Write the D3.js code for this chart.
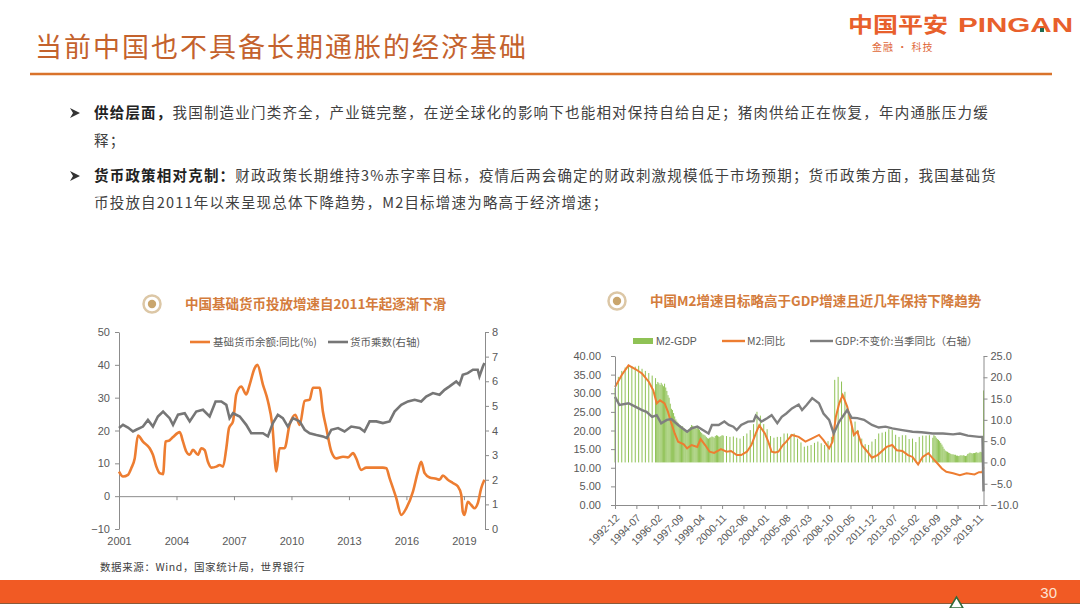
<!DOCTYPE html>
<html>
<head>
<meta charset="utf-8">
<script src="https://cdn.jsdelivr.net/npm/d3@7"></script>
<style>
  body { margin: 0; background: #fff; }
  svg { display: block; font-family: "Noto Sans CJK SC", "Liberation Sans", sans-serif; }
</style>
</head>
<body>
<svg id="slide" width="1080" height="608"></svg>
<script>
// ---------- data: left chart (base money growth & money multiplier)
var baseYears = [2001.00,2001.21,2001.47,2001.64,2001.82,2001.99,2002.25,2002.60,2002.77,2002.95,
  2003.12,2003.30,2003.43,2003.64,2003.82,2004.17,2004.34,2004.51,2004.69,2004.86,
  2005.12,2005.30,2005.47,2005.64,2005.82,2006.08,2006.25,2006.43,2006.60,2006.74,
  2006.95,2007.12,2007.38,2007.64,2007.82,2008.08,2008.22,2008.51,2008.77,2009.00,
  2009.21,2009.38,2009.64,2009.90,2010.20,2010.43,2010.69,2010.95,2011.12,2011.47,
  2011.64,2011.82,2012.08,2012.34,2012.69,2012.95,2013.21,2013.38,2013.64,2013.90,
  2014.43,2014.77,2014.95,2015.12,2015.47,2015.73,2015.99,2016.34,2016.60,2016.77,
  2016.95,2017.21,2017.56,2017.73,2017.90,2018.16,2018.42,2018.68,2018.86,2018.94,
  2019.03,2019.20,2019.38,2019.55,2019.72,2019.90,2020.07];
var baseGrowth = [7.5,6.0,6.5,8.5,11.5,18.5,16.6,14.6,12.6,9.0,
  7.0,6.7,16.6,17.0,18.0,19.5,16.6,13.6,12.6,14.1,
  12.6,14.6,14.0,10.5,8.7,9.0,9.5,9.0,14.6,20.7,
  22.8,31.0,33.4,31.0,34.0,39.0,40.0,34.0,29.0,21.7,
  7.5,14.6,14.6,21.7,24.8,21.7,29.0,29.4,33.0,33.0,
  25.8,20.7,13.6,11.5,12.0,11.8,13.1,11.5,8.0,8.7,
  8.7,8.7,8.5,5.5,-0.6,-5.7,-3.7,1.4,7.5,10.5,
  7.0,5.7,5.3,5.0,6.3,5.0,4.0,3.0,0.4,-4.7,
  -5.7,-1.7,-2.7,-3.7,-2.2,2.4,5.0];
var multYears = [2001.00,2001.21,2001.47,2001.73,2001.90,2002.25,2002.51,2002.77,2003.03,2003.30,
  2003.64,2003.82,2004.08,2004.43,2004.69,2005.03,2005.38,2005.73,2006.04,2006.34,
  2006.60,2006.77,2006.95,2007.30,2007.64,2007.90,2008.16,2008.51,2008.77,2009.03,
  2009.29,2009.55,2009.81,2010.08,2010.43,2010.69,2010.95,2011.30,2011.64,2011.85,
  2012.08,2012.43,2012.77,2013.12,2013.56,2013.81,2014.08,2014.43,2014.77,2015.12,
  2015.38,2015.73,2016.08,2016.43,2016.77,2017.03,2017.38,2017.73,2017.99,2018.25,
  2018.60,2018.77,2018.94,2019.20,2019.47,2019.72,2019.81,2019.99,2020.07];
var multValues = [4.10,4.23,4.12,3.96,4.03,4.16,4.43,4.16,4.57,4.77,
  4.50,4.23,4.64,4.70,4.37,4.77,4.84,4.57,5.18,5.18,
  5.04,4.50,4.70,4.57,4.23,3.89,3.89,3.89,3.76,4.30,
  4.64,4.50,4.16,4.50,4.37,4.03,3.89,3.82,3.76,3.69,
  4.03,4.10,3.96,4.16,4.10,3.96,4.37,4.37,4.30,4.37,
  4.77,5.04,5.18,5.25,5.18,5.38,5.52,5.45,5.65,5.79,
  5.99,5.86,6.26,6.33,6.47,6.47,6.20,6.60,6.74];
var leftYearTicks = [2001, 2004, 2007, 2010, 2013, 2016, 2019];
var leftTicks = [-10, 0, 10, 20, 30, 40, 50];
var leftTicks2 = [0, 1, 2, 3, 4, 5, 6, 7, 8];

// ---------- data: right chart (M2, GDP, M2-GDP)
var m2Months = ["1992-12","1993-06","1993-12","1994-06","1994-12","1995-06","1995-10","1996-01","1996-04","1996-08",
  "1996-11","1997-02","1997-05","1997-08","1998-01","1998-04","1998-08","1999-01","1999-04","1999-08",
  "1999-12","2000-04","2000-10","2001-03","2001-07","2001-12","2002-04","2002-09","2003-01","2003-05",
  "2003-08","2004-01","2004-04","2004-07","2004-10","2005-01","2005-05","2005-08","2006-01","2006-07",
  "2007-01","2007-07","2008-01","2008-05","2008-10","2009-01","2009-04","2009-07","2009-10","2010-02",
  "2010-05","2010-08","2010-11","2011-03","2011-08","2011-12","2012-05","2012-09","2013-01","2013-06",
  "2013-10","2014-03","2014-08","2014-12","2015-05","2015-09","2016-02","2016-06","2016-10","2017-02",
  "2017-06","2017-12","2018-06","2018-12","2019-07","2019-11","2020-02","2020-03"];
var m2Values = [31.7,34.9,37.5,36.5,35.3,33.1,30.8,27.3,28.1,27.3,
  25.0,21.9,19.2,17.0,16.3,15.2,16.1,15.6,17.7,16.1,
  14.3,14.0,15.0,14.3,14.5,13.4,13.4,14.3,16.1,19.2,
  21.4,19.2,17.0,14.3,14.1,14.3,16.1,17.0,18.8,18.3,
  17.0,17.9,18.8,17.4,15.2,17.0,23.7,27.3,29.5,26.4,
  22.8,18.8,19.7,16.1,14.3,12.7,13.4,14.5,15.6,16.1,
  14.7,14.5,13.4,12.9,10.9,12.9,13.9,12.5,11.2,9.8,
  8.9,8.5,8.0,8.5,8.2,8.8,8.8,10.1];
var gdpMonths = ["1992-12","1993-04","1993-12","1994-06","1994-12","1995-04","1995-09","1996-01","1996-05","1996-10",
  "1997-02","1997-08","1998-04","1998-08","1999-01","1999-06","1999-11","2000-02","2000-08","2001-01",
  "2001-05","2001-09","2001-12","2002-04","2002-10","2003-03","2003-05","2003-10","2004-03","2004-07",
  "2004-12","2005-04","2005-08","2006-01","2006-07","2006-10","2007-02","2007-07","2008-01","2008-05",
  "2008-10","2009-02","2009-07","2010-02","2010-06","2010-11","2011-05","2011-12","2012-06","2012-12",
  "2013-06","2014-03","2014-12","2015-08","2016-06","2017-03","2017-12","2018-06","2019-01","2019-11",
  "2020-02","2020-03"];
var gdpValues = [15.4,13.5,13.9,13.1,12.3,11.9,10.7,11.1,9.2,10.0,
  10.2,8.8,7.2,8.0,8.4,7.6,6.8,8.8,8.8,9.6,
  8.8,8.4,7.6,8.8,9.6,9.7,11.0,9.6,10.4,11.1,
  9.2,10.7,11.5,12.7,13.6,12.3,13.5,15.1,13.9,11.5,
  10.0,6.8,9.6,12.3,10.5,10.4,10.0,8.8,8.2,8.4,
  8.0,7.6,7.2,7.1,6.8,6.8,6.6,6.8,6.3,6.0,
  6.0,-6.8];
// M2-GDP bars: quarterly stretches and monthly stretches
var gapQuarterly1 = [17.5,20.1,21.5,22.3,22.9,22.6,22.5,22.7,22.0,21.5,21.0,20.4,19.8];   // from 1992-12
var gapMonthly1 = [18.4,18.9,18.6,18.2,18.7,18.3,17.9,18.5,17.6,16.8,15.8,15.2,
  13.8,12.6,12.3,11.6,10.8,10.1,9.6,9.3,8.9,8.7,8.4,8.5,
  8.1,7.8,7.6,7.4,7.5,7.9,8.3,8.8,8.6,8.4,8.1,8.0,
  8.3,7.9,7.6,7.2,6.9,6.6,6.5,6.3,6.0,5.7,5.6,5.8,
  5.9,6.1,6.0,5.8,6.2,6.4,6.3,6.1,6.0,6.2,6.4,6.3];                                  // from 1996-01
var gapQuarterly2 = [6.2,6.0,6.1,5.8,5.6,6.2,6.8,7.6,9.0,11.9,11.0,9.0,7.8,6.2,5.8,6.0,
  6.0,6.8,6.8,6.6,6.8,5.6,4.7,3.7,3.9,4.1,4.6,4.9,4.5,4.1,5.0,6.0,
  19.4,20.1,19.0,16.6,12.3,9.6,9.6,7.5,5.6,4.3,4.1,4.9,5.5,6.8,7.0,7.2,
  7.8,7.6,6.5,6.0,6.4,6.4,5.5,5.6,4.8,6.0,6.3,6.3,6.4,5.8];                           // from 2001-03
var gapMonthly2 = [6.4,6.2,5.8,5.5,5.3,5.0,
  4.6,4.2,3.7,3.2,2.8,2.6,2.5,2.3,2.2,2.0,1.9,1.9,
  1.8,1.8,1.6,1.6,1.5,1.6,1.7,1.6,1.7,1.6,1.5,1.6,
  2.0,2.1,2.3,2.2,2.1,2.2,2.2,2.3,2.4,2.2,2.3,2.5,
  2.4,2.8,16.9];                                                                       // from 2016-07
var rightTickLabels = ["1992-12","1994-07","1996-02","1997-09","1999-04","2000-11","2002-06","2004-01","2005-08",
  "2007-03","2008-10","2010-05","2011-12","2013-07","2015-02","2016-09","2018-04","2019-11"];
var rightTicks = [0, 5, 10, 15, 20, 25, 30, 35, 40];
var rightTicks2 = [-10, -5, 0, 5, 10, 15, 20, 25];

var svg = d3.select('#slide');
var ORANGE = '#ed7d31', GRAY = '#767676', GREEN = '#8fc255';

// ---------- header
svg.append('text')
  .attr('x', 35).attr('y', 57)
  .attr('font-size', 27).attr('letter-spacing', 2)
  .attr('fill', '#c4622d')
  .text('当前中国也不具备长期通胀的经济基础');
svg.append('line')
  .attr('x1', 30).attr('x2', 1052).attr('y1', 74).attr('y2', 74)
  .attr('stroke', '#d9732b').attr('stroke-width', 2.5);

// logo
svg.append('text')
  .attr('x', 848).attr('y', 32).attr('font-size', 21).attr('font-weight', 'bold')
  .attr('fill', '#e8602c').attr('textLength', 100).attr('lengthAdjust', 'spacingAndGlyphs')
  .text('中国平安');
svg.append('text')
  .attr('x', 958).attr('y', 32).attr('font-size', 21).attr('font-weight', 'bold')
  .attr('font-family', 'Liberation Sans, Arial, sans-serif')
  .attr('fill', '#e8602c').attr('textLength', 115).attr('lengthAdjust', 'spacingAndGlyphs')
  .text('PINGAN');
svg.append('rect').attr('x', 1040).attr('y', 28).attr('width', 4).attr('height', 4).attr('fill', '#1d6b52');
svg.append('text')
  .attr('x', 872).attr('y', 51).attr('font-size', 10).attr('letter-spacing', 1)
  .attr('fill', '#e0683a')
  .text('金融 · 科技');

// ---------- bullets
function bulletMark(y) {
  svg.append('path')
    .attr('d', 'M70,' + (y - 5) + 'L80,' + y + 'L70,' + (y + 5) + 'L73,' + y + 'Z')
    .attr('fill', '#333');
}
function textLine(x, y, parts) {
  var t = svg.append('text').attr('x', x).attr('y', y)
    .attr('font-size', 14.5).attr('letter-spacing', 1.2).attr('fill', '#404040');
  parts.forEach(function (p) {
    t.append('tspan').attr('font-weight', p[1] ? 'bold' : 'normal').attr('fill', p[1] ? '#222' : '#404040').text(p[0]);
  });
}
bulletMark(113);
textLine(94, 118, [['供给层面，', true], ['我国制造业门类齐全，产业链完整，在逆全球化的影响下也能相对保持自给自足；猪肉供给正在恢复，年内通胀压力缓', false]]);
textLine(94, 146, [['释；', false]]);
bulletMark(176);
textLine(94, 181, [['货币政策相对克制：', true], ['财政政策长期维持3%赤字率目标，疫情后两会确定的财政刺激规模低于市场预期；货币政策方面，我国基础货', false]]);
textLine(94, 208, [['币投放自2011年以来呈现总体下降趋势，M2目标增速为略高于经济增速；', false]]);

// ---------- chart titles
function chartTitle(cx, cy, tx, label) {
  svg.append('circle').attr('cx', cx).attr('cy', cy).attr('r', 8.5)
    .attr('fill', 'none').attr('stroke', '#dcc7a6').attr('stroke-width', 2.5);
  svg.append('circle').attr('cx', cx).attr('cy', cy).attr('r', 4.2).attr('fill', '#c9a56c');
  svg.append('text').attr('x', tx).attr('y', cy + 5)
    .attr('font-size', 13.5).attr('font-weight', 'bold').attr('fill', '#d47c3c')
    .text(label);
}
chartTitle(152, 304, 185, '中国基础货币投放增速自2011年起逐渐下滑');
chartTitle(617, 301, 650, '中国M2增速目标略高于GDP增速且近几年保持下降趋势');

function styleAxis(g) {
  g.attr('font-family', 'Liberation Sans, Arial, sans-serif').attr('font-size', 11);
  g.selectAll('path, line').attr('stroke', '#8c8c8c');
  g.selectAll('text').attr('fill', '#595959');
}

// ---------- left chart
var xL = d3.scaleLinear().domain([2001, 2020.1]).range([119, 485]);
var yL = d3.scaleLinear().domain([-10, 50]).range([529, 332]);
var yL2 = d3.scaleLinear().domain([0, 8]).range([529, 332]);

svg.append('g').attr('transform', 'translate(119,0)')
  .call(d3.axisLeft(yL).tickValues(leftTicks).tickSize(4).tickPadding(5).tickSizeOuter(0))
  .call(styleAxis);
svg.append('g').attr('transform', 'translate(485,0)')
  .call(d3.axisRight(yL2).tickValues(leftTicks2).tickSize(4).tickPadding(3).tickSizeOuter(0))
  .call(styleAxis);
svg.append('g').attr('transform', 'translate(0,' + yL(0) + ')')
  .call(d3.axisBottom(xL).tickValues(leftYearTicks).tickSize(4).tickSizeOuter(0).tickFormat(''))
  .call(styleAxis);
svg.append('g').attr('transform', 'translate(0,535)')
  .call(d3.axisBottom(xL).tickValues(leftYearTicks).tickSize(0).tickPadding(2).tickFormat(d3.format('d')))
  .call(styleAxis)
  .call(function (g) { g.select('.domain').remove(); });

var baseData = baseYears.map(function (y, i) { return [y, baseGrowth[i]]; });
var multData = multYears.map(function (y, i) { return [y, multValues[i]]; });

svg.append('path').datum(baseData)
  .attr('fill', 'none').attr('stroke', ORANGE).attr('stroke-width', 2.6)
  .attr('d', d3.line().x(function (d) { return xL(d[0]); }).y(function (d) { return yL(d[1]); }).curve(d3.curveMonotoneX));
svg.append('path').datum(multData)
  .attr('fill', 'none').attr('stroke', GRAY).attr('stroke-width', 2.6)
  .attr('d', d3.line().x(function (d) { return xL(d[0]); }).y(function (d) { return yL2(d[1]); }));

// left legend
var legL = svg.append('g').attr('font-size', 10.5).attr('fill', '#595959');
legL.append('line').attr('x1', 190).attr('x2', 210).attr('y1', 342).attr('y2', 342).attr('stroke', ORANGE).attr('stroke-width', 2.6);
legL.append('text').attr('x', 213).attr('y', 346).text('基础货币余额:同比(%)');
legL.append('line').attr('x1', 328).attr('x2', 348).attr('y1', 342).attr('y2', 342).attr('stroke', GRAY).attr('stroke-width', 2.6);
legL.append('text').attr('x', 350).attr('y', 346).text('货币乘数(右轴)');

svg.append('text').attr('x', 100).attr('y', 571)
  .attr('font-size', 10.5).attr('letter-spacing', 0.6).attr('fill', '#404040')
  .text('数据来源：Wind，国家统计局，世界银行');

// ---------- right chart
var parseMonth = d3.timeParse('%Y-%m');
var xR = d3.scaleTime().domain([parseMonth('1992-12'), parseMonth('2020-03')]).range([615, 983.5]);
var yR = d3.scaleLinear().domain([0, 40]).range([505, 356]);
var yR2 = d3.scaleLinear().domain([-10, 25]).range([505, 356]);

function monthRun(start, step, values) {
  var d0 = parseMonth(start);
  return values.map(function (v, i) { return { date: d3.timeMonth.offset(d0, i * step), value: v }; });
}
var gapData = [].concat(
  monthRun('1992-12', 3, gapQuarterly1),
  monthRun('1996-01', 1, gapMonthly1),
  monthRun('2001-03', 3, gapQuarterly2),
  monthRun('2016-07', 1, gapMonthly2));

svg.selectAll('rect.gap').data(gapData).enter().append('rect')
  .attr('class', 'gap')
  .attr('x', function (d) { return xR(d.date) - 0.5; })
  .attr('width', 1)
  .attr('y', function (d) { return yR2(d.value); })
  .attr('height', function (d) { return yR2(0) - yR2(d.value); })
  .attr('fill', GREEN);

var m2Data = m2Months.map(function (m, i) { return { date: parseMonth(m), value: m2Values[i] }; });
var gdpData = gdpMonths.map(function (m, i) { return { date: parseMonth(m), value: gdpValues[i] }; });

svg.append('path').datum(m2Data)
  .attr('fill', 'none').attr('stroke', ORANGE).attr('stroke-width', 2)
  .attr('d', d3.line().x(function (d) { return xR(d.date); }).y(function (d) { return yR(d.value); }));
svg.append('path').datum(gdpData)
  .attr('fill', 'none').attr('stroke', '#7f7f7f').attr('stroke-width', 2.4)
  .attr('d', d3.line().x(function (d) { return xR(d.date); }).y(function (d) { return yR2(d.value); }));

svg.append('g').attr('transform', 'translate(615,0)')
  .call(d3.axisLeft(yR).tickValues(rightTicks).tickSize(4).tickPadding(10).tickSizeOuter(0).tickFormat(d3.format('.2f')))
  .call(styleAxis);
svg.append('g').attr('transform', 'translate(983.5,0)')
  .call(d3.axisRight(yR2).tickValues(rightTicks2).tickSize(4).tickPadding(3).tickSizeOuter(0).tickFormat(d3.format('.1f')))
  .call(styleAxis);
var xAxisR = svg.append('g').attr('transform', 'translate(0,505)')
  .call(d3.axisBottom(xR).tickValues(rightTickLabels.map(parseMonth)).tickSize(4).tickSizeOuter(0)
    .tickFormat(d3.timeFormat('%Y-%m')))
  .call(styleAxis);
xAxisR.selectAll('.tick text')
  .attr('text-anchor', 'end')
  .attr('font-size', 10.5)
  .attr('dy', '0.35em')
  .attr('y', 0)
  .attr('transform', 'translate(2,11) rotate(-45)');

// right legend
var legR = svg.append('g').attr('font-size', 10.5).attr('fill', '#595959');
legR.append('rect').attr('x', 633).attr('y', 338).attr('width', 20).attr('height', 6).attr('fill', GREEN);
legR.append('text').attr('x', 656).attr('y', 345).attr('font-family', 'Liberation Sans, Arial, sans-serif').text('M2-GDP');
legR.append('line').attr('x1', 722).attr('x2', 745).attr('y1', 341).attr('y2', 341).attr('stroke', ORANGE).attr('stroke-width', 2.4);
legR.append('text').attr('x', 747).attr('y', 345).text('M2:同比');
legR.append('line').attr('x1', 810).attr('x2', 833).attr('y1', 341).attr('y2', 341).attr('stroke', '#7f7f7f').attr('stroke-width', 2.4);
legR.append('text').attr('x', 835).attr('y', 345).text('GDP:不变价:当季同比（右轴）');

// ---------- footer
svg.append('rect').attr('x', 0).attr('y', 580).attr('width', 1080).attr('height', 23).attr('fill', '#f15a24');
svg.append('line').attr('x1', 0).attr('x2', 1080).attr('y1', 603.5).attr('y2', 603.5).attr('stroke', '#8a5a3a').attr('stroke-width', 1);
svg.append('text').attr('x', 1057).attr('y', 598).attr('text-anchor', 'end')
  .attr('font-size', 15).attr('font-family', 'Liberation Sans, Arial, sans-serif').attr('fill', '#fde3d3')
  .text('30');
svg.append('path').attr('d', 'M950,608L956.5,597L963,608Z')
  .attr('fill', '#fff').attr('stroke', '#2e6b3a').attr('stroke-width', 1.5);
</script>
</body>
</html>
